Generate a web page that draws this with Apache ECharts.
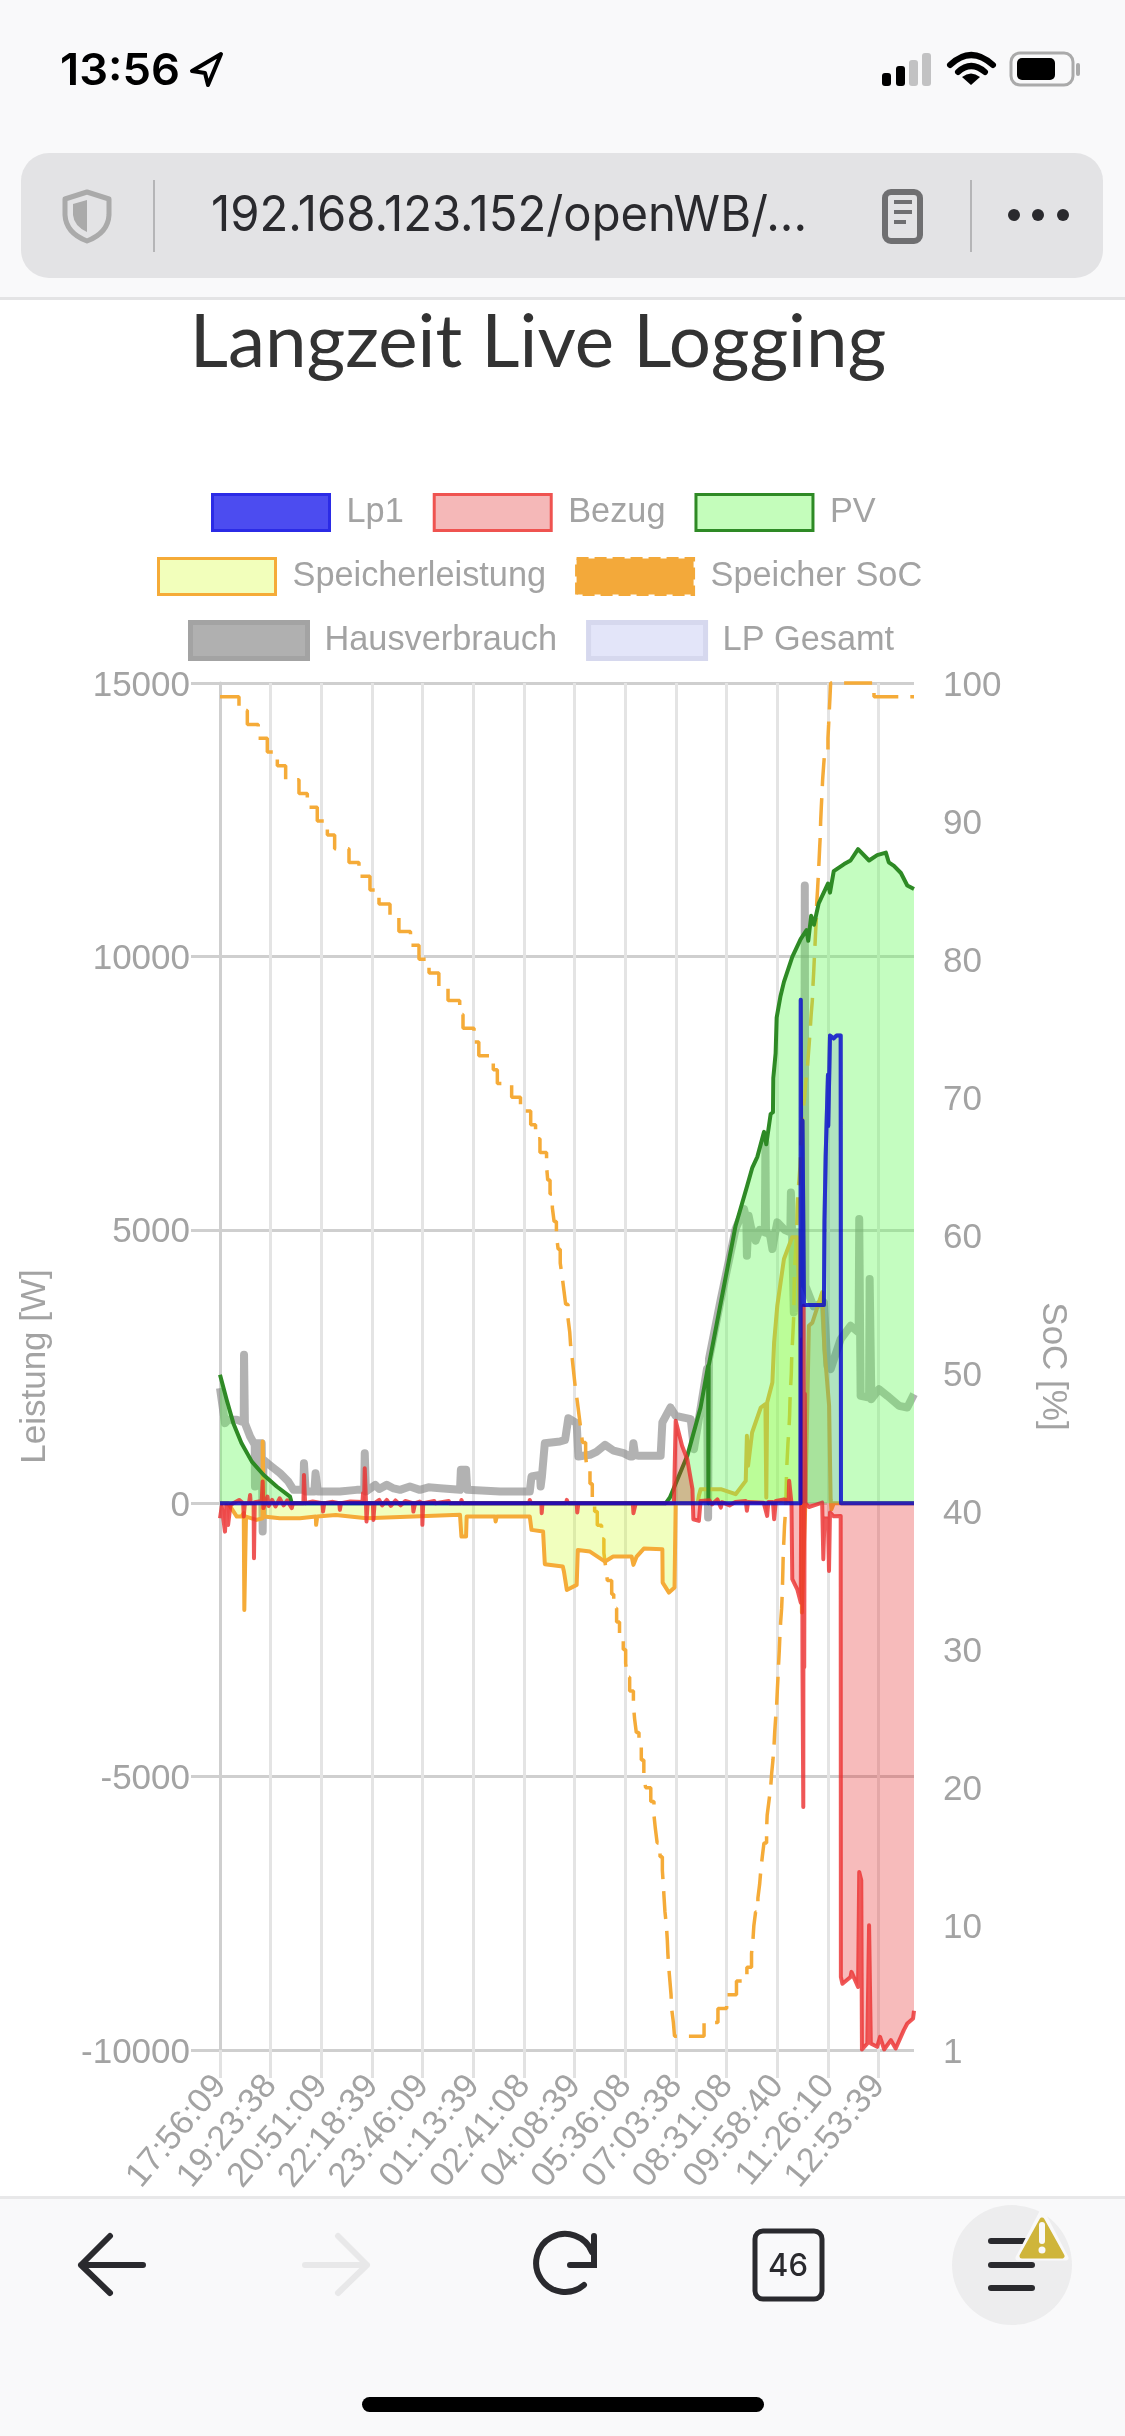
<!DOCTYPE html>
<html>
<head>
<meta charset="utf-8">
<title>Langzeit Live Logging</title>
<script src="https://cdn.jsdelivr.net/npm/echarts@6/dist/echarts.min.js"></script>
<style>
  html, body { margin: 0; padding: 0; background: #fff; }
  #chart { position: absolute; left: 0; top: 0; width: 1125px; height: 2436px; }
  #chrome { position: absolute; left: 0; top: 0; pointer-events: none; }
</style>
</head>
<body>
<div id="chart"></div>
<svg id="chrome" width="1125" height="2436" xmlns="http://www.w3.org/2000/svg">
  <!-- status bar and address bar -->
  <rect x="0" y="0" width="1125" height="297" fill="#f9f9fa"/>
  <rect x="0" y="297" width="1125" height="3" fill="#e4e4e5"/>
  <text x="60" y="85" font-family="Inter" font-weight="600" font-size="44" fill="#000" textLength="120" lengthAdjust="spacingAndGlyphs">13:56</text>
  <path d="M221 54 L192 71 L205 73 L208 85 Z" fill="none" stroke="#000" stroke-width="4" stroke-linejoin="round"/>
  <rect x="882" y="73" width="9" height="13" rx="3" fill="#000"/>
  <rect x="896" y="66" width="9" height="20" rx="3" fill="#000"/>
  <rect x="909" y="60" width="9" height="26" rx="3" fill="#c2c2c3"/>
  <rect x="922" y="53" width="9" height="33" rx="3" fill="#c2c2c3"/>
  <path d="M950 65 Q971 45 993 65" fill="none" stroke="#000" stroke-width="6" stroke-linecap="round"/>
  <path d="M958 72 Q971 60 985 72" fill="none" stroke="#000" stroke-width="6" stroke-linecap="round"/>
  <path d="M971 85 L962 77 Q971 70 980 77 Z" fill="#000"/>
  <rect x="1011" y="53" width="62" height="32" rx="9" fill="none" stroke="#aaa" stroke-width="3"/>
  <rect x="1017" y="58" width="38" height="22" rx="5" fill="#000"/>
  <rect x="1076" y="63" width="4" height="13" rx="2" fill="#aaa"/>

  <rect x="21" y="153" width="1082" height="125" rx="28" fill="#e3e3e5"/>
  <path d="M87 192 L65 199 L65 215 Q66 233 87 241 Q108 233 109 215 L109 199 Z" fill="none" stroke="#aaa" stroke-width="5" stroke-linejoin="round"/>
  <path d="M87 200 L73 204 L73 215 Q74 226 87 232 Z" fill="#aaa"/>
  <rect x="153" y="180" width="2" height="72" fill="#b5b5b7"/>
  <text x="211" y="231" font-family="Inter" font-size="49" fill="#2a2a2e" textLength="596" lengthAdjust="spacingAndGlyphs">192.168.123.152/openWB/...</text>
  <rect x="885" y="192" width="35" height="49" rx="6" fill="none" stroke="#6f6f71" stroke-width="6"/>
  <path d="M894 202 H912 M894 212 H912 M894 222 H906" stroke="#6f6f71" stroke-width="4"/>
  <rect x="970" y="180" width="2" height="72" fill="#b5b5b7"/>
  <circle cx="1014" cy="215" r="6" fill="#2a2a2e"/>
  <circle cx="1038" cy="215" r="6" fill="#2a2a2e"/>
  <circle cx="1063" cy="215" r="6" fill="#2a2a2e"/>

  <!-- bottom toolbar -->
  <rect x="0" y="2199" width="1125" height="237" fill="#f9f9fa"/>
  <rect x="0" y="2196" width="1125" height="3" fill="#e8e8e9"/>
  <path d="M110 2236 L81 2265 L110 2293 M81 2265 H143" fill="none" stroke="#2a2a2e" stroke-width="6" stroke-linecap="round" stroke-linejoin="round"/>
  <path d="M338 2236 L367 2265 L338 2293 M305 2265 H367" fill="none" stroke="#e8e8e9" stroke-width="6" stroke-linecap="round" stroke-linejoin="round"/>
  <path d="M592 2252 A29 29 0 1 0 584 2285" fill="none" stroke="#2a2a2e" stroke-width="6" stroke-linecap="round"/>
  <path d="M594 2236 V2265 H570" fill="none" stroke="#2a2a2e" stroke-width="6" stroke-linecap="round"/>
  <rect x="755" y="2231" width="67" height="68" rx="8" fill="none" stroke="#2a2a2e" stroke-width="5"/>
  <text x="788" y="2276" text-anchor="middle" font-family="Inter" font-weight="500" font-size="31" fill="#2a2a2e">46</text>
  <circle cx="1012" cy="2265" r="60" fill="#ededee"/>
  <path d="M991 2241 H1032 M991 2265 H1032 M991 2288 H1032" stroke="#2a2a2e" stroke-width="6" stroke-linecap="round"/>
  <path d="M1042 2212 L1066 2258 H1018 Z" fill="#cfb53b" stroke="#f9f9fa" stroke-width="5" stroke-linejoin="round"/>
  <path d="M1042 2220 L1062 2256 H1022 Z" fill="#cfb53b" stroke="#cfb53b" stroke-width="5" stroke-linejoin="round"/>
  <path d="M1042 2225 V2241" stroke="#f9f9fa" stroke-width="6" stroke-linecap="round"/>
  <circle cx="1042" cy="2250" r="3.5" fill="#f9f9fa"/>
  <rect x="362" y="2397" width="402" height="15" rx="7.5" fill="#000"/>
</svg>
<script>
// x values are minutes after the first log entry (17:56:09), y values are watts / percent
var tickStep = 87.5
var tickLabels = ['17:56:09', '19:23:38', '20:51:09', '22:18:39', '23:46:09', '01:13:39', '02:41:08',
  '04:08:39', '05:36:08', '07:03:38', '08:31:08', '09:58:40', '11:26:10', '12:53:39']
var lastMinute = 1198.6
var socTicks = [1, 10, 20, 30, 40, 50, 60, 70, 80, 90, 100]

var lp1Data = [[0, 0], [1002.5, 0], [1003, 9207], [1004, 5200], [1006, 7000], [1008.6, 3623], [1043, 3623], [1044, 5172],
  [1046, 6334], [1050, 7836], [1050.5, 6900], [1053.5, 8554], [1060, 8500], [1065, 8554], [1072, 8554], [1072.5, 0],
  [lastMinute, 0]]

var bezugData = [[0, -275], [3, -60], [6, -60], [8.6, -520], [11, -40], [14, -400], [18, -40], [23, 0], [33, 60], [40, 0],
  [41, -244], [43, 0], [50, 0], [52, 150], [53, 0], [58, 0], [58.7, -1006], [60, 20], [72, 40], [73.7, 396], [75, -90],
  [82, 120], [84, -50], [90, 60], [96, -60], [103, 90], [110, -40], [116, 50], [124, -90], [126, 0], [144, 0], [145, 518],
  [147, 0], [160, 30], [177, 0], [178, -152], [180, 0], [195, 25], [206, 0], [207, -122], [209, 0], [225, 30], [246, 20],
  [247, 183], [249, 120], [250, 640], [252, 60], [253, -335], [255, 0], [264, 0], [265, -305], [267, 0], [275, 60], [280, -40],
  [288, 60], [295, -50], [303, 50], [312, -40], [320, 40], [333, 0], [334, -152], [337, 0], [345, 30], [349, 0], [349.5, -396],
  [351, 0], [370, 40], [372, 0], [395, 40], [397, 0], [416, 0], [417, 60], [419, 0], [534, 0], [535, 60], [537, 0], [555, 0],
  [555.6, -183], [557, 0], [598, 0], [599, 61], [601, 0], [616, 0], [617, -170], [619, 0], [713, 0], [714, -183], [716, -170],
  [718, 0], [784, 0], [787, 1507], [798, 1050], [807, 805], [816, 256], [817.5, -293], [827, -323], [830, 40], [845, 55],
  [850, -20], [859, 70], [865, -80], [867, 20], [880, -40], [890, 20], [908, 40], [910, -140], [912, 20], [939, 10], [945, -232],
  [947, 20], [955, 20], [957, -293], [960, 40], [974, 70], [982, 50], [983, 409], [987, 0], [988.4, -1390], [997, -1574],
  [1003, -1818], [1005, 3000], [1006, -3000], [1007.4, -5554], [1008, 3611], [1009, -3000], [1010, 2000], [1011, 0], [1017, -70],
  [1040, 10], [1042, -1025], [1044, -280], [1050, -280], [1051.8, -1238], [1053.5, -170], [1060, -240], [1072, -232],
  [1072.3, -8664], [1075, -8790], [1089, -8664], [1090.6, -8571], [1102, -8846], [1104, -6743], [1107.5, -6896], [1108.7, -9990],
  [1118, -9881], [1121, -7717], [1124, -9881], [1135, -9942], [1140, -9759], [1147, -9990], [1158.7, -9820], [1167, -9973],
  [1181, -9637], [1187, -9515], [1197, -9424], [1198.6, -9283]]

var pvData = [[0, 2350], [11.5, 1890], [23, 1464], [37, 1100], [55, 760], [75, 520], [98, 305], [121, 120], [124, 0],
  [770, 0], [777, 104], [807, 866], [830, 1750], [843, 2513], [843.5, 0], [844, 2513], [865, 3672], [890.5, 5075],
  [910.7, 5812], [919.4, 6138], [928, 6334], [939.6, 6791], [943.5, 6563], [951, 7118], [955, 7150], [955.6, 7771],
  [959.6, 8228], [961.4, 8881], [968, 9273], [974, 9534], [988.4, 9991], [1002.8, 10317], [1013, 10480],
  [1016, 10285], [1021, 10742], [1025.8, 10579], [1034, 10970], [1050, 11330], [1053.5, 11166], [1060, 11558],
  [1078, 11689], [1089, 11754], [1102, 11963], [1121, 11754], [1135, 11852], [1150, 11898], [1155, 11721],
  [1164, 11656], [1176, 11525], [1187, 11297], [1198.6, 11232]]

var speicherData = [[0, 0], [14, 0], [29, -244], [37, -244], [41, -180], [42, -1952], [44.9, -244], [63, -305],
  [73.5, -275], [73.7, 1128], [76, -244], [103, -275], [138, -275], [165.5, -244], [166, -396], [168, -244], [200, -215],
  [253, -275], [334, -244], [414.5, -213], [417, -610], [425, -610], [426, -244], [475, -244], [476, -335], [478, -244],
  [535, -244], [538, -488], [558, -518], [561, -1116], [592, -1159], [594, -1250], [599, -1586], [616, -1494],
  [618, -854], [639, -885], [665, -1067], [679, -976], [711, -976], [714, -1128], [719.6, -976], [732, -830],
  [764, -842], [764.5, -1452], [775.4, -1635], [785, -1543], [787, 0], [825, 0], [827, 134], [830, 256], [865, 256],
  [890.5, 165], [908, 409], [910, 1232], [912, 683], [919, 1293], [934, 1750], [942, 1812], [943.5, 104], [945, 1842],
  [954, 2208], [957, 2940], [962.5, 3611], [974, 4465], [988, 4862], [997, 4862], [1003, 3000], [1005, -2000],
  [1007, -1200], [1011, 0], [1017, 3245], [1023, 3300], [1040, 3855], [1044, 2818], [1052, 1781], [1054.6, 73],
  [1056, -110], [1060, 0], [lastMinute, 0]]

var socData = [[0, 99], [32.8, 98], [47.2, 97], [66, 96], [81.7, 95], [99, 94], [113.4, 93], [136.4, 92], [150.8, 91],
  [168, 90], [185.4, 89], [198, 88], [222.8, 87], [240, 86], [259, 85], [274.6, 84], [293.6, 83], [309, 82], [329, 81],
  [343.7, 80], [361, 79], [378, 78], [393.8, 77], [414, 76], [419.7, 75], [438.7, 74], [447, 73], [472, 72], [479, 71],
  [503.7, 70], [519, 69], [536.6, 68], [545, 67], [552.6, 66], [564, 65], [566, 64], [570, 63], [574, 62], [577, 61],
  [581, 60], [584, 59], [587.6, 58], [591, 57], [594, 56], [597, 55], [601, 54], [604, 53], [605.6, 52], [608.5, 51],
  [611, 50], [613.6, 49], [617, 48], [620, 47], [623, 46], [626, 45], [631.5, 44], [634, 43], [639, 42], [643, 41],
  [647, 40], [651.6, 39], [659, 38], [663, 37], [666, 36], [669, 35], [676.5, 34], [680, 33], [685, 32], [690, 31],
  [696.5, 30], [700.6, 29], [703.5, 28], [707.5, 27], [714, 26], [716, 25], [719, 24], [723.6, 23], [727.6, 22],
  [732, 21], [735, 20], [744, 19], [749.5, 18], [752, 17], [755, 16], [760, 15], [764, 14], [765.6, 13], [767, 12],
  [768.5, 11], [771, 10], [772.5, 9], [773.5, 8], [775, 7], [777, 6], [779, 5], [780, 4], [783, 3], [785, 2], [836, 3],
  [860, 4], [875, 5], [892, 6], [910, 7], [918, 8], [920.5, 9], [922, 10], [925, 11], [929, 12], [932, 13], [934, 14],
  [936.6, 15], [939.5, 16], [944, 17], [945, 18], [948, 19], [951, 20], [952.7, 21], [955, 22], [956.8, 23], [958, 24],
  [959.6, 25], [961.4, 26], [962.5, 27], [963.7, 28], [964.8, 29], [966, 30], [967, 31], [968.3, 32], [970, 33],
  [971, 34], [971.7, 35], [972.3, 36], [972.8, 37], [974, 38], [975, 39], [976.7, 40], [977.5, 41], [978, 42],
  [978.6, 43], [979.8, 44], [981, 45], [982.7, 46], [983.8, 47], [984.4, 48], [985.5, 49], [986.7, 50], [987.3, 51],
  [988.4, 52], [989.6, 53], [990.7, 54], [991.3, 55], [991.6, 56], [992, 57], [993, 58], [994.2, 59], [995.3, 60],
  [996.5, 61], [997, 62], [998, 63], [1000, 64], [1001.7, 65], [1002.8, 66], [1004, 67], [1005, 68], [1006.8, 69],
  [1009.7, 70], [1011.4, 71], [1014.3, 72], [1016, 73], [1017.8, 74], [1019.5, 75], [1021, 76], [1023, 77], [1024, 78],
  [1025.3, 79], [1026.4, 80], [1027.6, 81], [1028.7, 82], [1030, 83], [1030.5, 84], [1032, 85], [1033.3, 86],
  [1034.5, 87], [1035.6, 88], [1036.8, 89], [1037.4, 90], [1038.5, 91], [1039.7, 92], [1040.8, 93], [1042.5, 94],
  [1044.3, 95], [1050, 96], [1051.2, 97], [1052.3, 98], [1053.5, 99], [1054.6, 100], [1129.5, 99], [lastMinute, 99]]

var hausData = [[0, 2105], [3, 2070], [8.6, 1464], [14, 1525], [29, 1525], [37, 1495], [41, 1480], [41.5, 2715], [43, 1464], [52, 1220],
  [60, 1067], [60.4, 305], [63, 1098], [72, 1098], [73.7, -518], [75, 793], [89, 671], [103.6, 549], [118, 396],
  [127, 244], [144, 244], [145, 732], [147, 732], [148, 214], [163, 214], [165, 549], [168, 549], [169, 214], [207, 214], [236, 244],
  [249, 244], [250, 915], [252, 214], [268, 335], [275, 260], [288, 335], [300, 270], [311, 244], [328, 305], [345, 244], [360, 290],
  [380, 275], [414.5, 244], [416, 610], [425, 610], [427, 244], [483.6, 214], [535, 214], [538, 488], [552.7, 518],
  [553.8, 305], [556, 488], [561, 1098], [587, 1128], [596, 1159], [601.6, 1555], [616, 1464], [619, 854], [639, 885],
  [650, 940], [665, 1067], [680, 960], [697, 915], [708, 854], [712, 854], [714, 1098], [717, 880], [723.6, 866], [761, 866],
  [764, 1476], [778, 1750], [787, 1598], [813, 1537], [818.6, 988], [841, 2452], [843, -262], [844.5, 2635], [865, 3733],
  [890.5, 5014], [905, 5380], [909, 5200], [910, 4526], [913, 5258], [917, 5050], [925, 4800], [932, 5000], [941, 4953], [942, 6595], [943, 4953],
  [950, 4900], [954, 4648], [958, 4900], [962.5, 5136], [975, 5000], [985, 4953], [986, 5681], [988, 4953], [991, 3489], [993, 3489],
  [997, 4953], [1009, 4000], [1010, 11297], [1011, 3977], [1025, 3600], [1043, 3672], [1049, 2513], [1054.6, 2452], [1072, 3001],
  [1089, 3245], [1103, 3123], [1104, 5197], [1106.4, 1964], [1121, 1934], [1122, 4099], [1125, 1903], [1138, 2086],
  [1152.5, 1964], [1172.7, 1781], [1187, 1751], [1198.6, 1995]]

var lpGesamtData = lp1Data

var grey = '#a3a3a3'
var gridLine = { color: '#cfcfcf', width: 3 }
var fontName = '"Liberation Sans", Arial, sans-serif'

function lineSeries(name, data, color, width, fill, z, extra) {
  var s = {
    name: name,
    type: 'line',
    data: data,
    z: z,
    showSymbol: false,
    silent: true,
    lineStyle: { color: color, width: width, join: 'round' },
    itemStyle: { color: color }
  }
  if (fill) s.areaStyle = { color: fill, origin: 0, opacity: 1 }
  for (var k in extra) s[k] = extra[k]
  return s
}

function legendRow(top, left, items) {
  return {
    top: top, left: left, orient: 'horizontal', itemWidth: 117, itemHeight: 36, itemGap: 29,
    selectedMode: false,
    textStyle: { color: grey, fontSize: 34.3, fontFamily: fontName, padding: [0, 0, 0, 12] },
    data: items.map(function (it) {
      return {
        name: it[0], icon: 'rect',
        itemStyle: { color: it[1], borderColor: it[2], borderWidth: it[3], borderType: it[4] || 'solid', opacity: 1 }
      }
    })
  }
}

// y tick labels sit a little below their grid line
var tickRich = { v: { color: grey, fontSize: 35, fontFamily: fontName, padding: [6, 0, 0, 0] } }
function tickLabel(v) { return '{v|' + v + '}' }

var chart = echarts.init(document.getElementById('chart'), null, { renderer: 'canvas' })

var option = {
  animation: false,
  backgroundColor: '#fff',
  title: {
    text: 'Langzeit Live Logging',
    left: 533, top: 300, textAlign: 'center',
    textStyle: { color: '#333', fontSize: 74.5, fontWeight: 'normal', fontFamily: 'Lato' }
  },
  legend: [
    legendRow(488, 206, [['Lp1', '#4c4cf0', '#2b2be6', 3], ['Bezug', '#f5b8b8', '#ef5350', 3], ['PV', '#c4fdbb', '#2e8a25', 3]]),
    legendRow(552, 152, [['Speicherleistung', '#f2ffbb', '#f5ab38', 3], ['Speicher SoC', '#f3a93a', '#f3a93a', 3, 'dashed']]),
    legendRow(615, 183, [['Hausverbrauch', '#b0b0b0', '#a3a3a3', 5], ['LP Gesamt', '#e3e5f9', '#d6d8ee', 5]])
  ],
  grid: { left: 220, right: 211, top: 683, bottom: 386, containLabel: false, outerBoundsMode: 'none' },
  xAxis: {
    type: 'value', min: 0, max: lastMinute,
    axisLine: { show: false, onZero: false },
    axisTick: {
      show: true, length: 28, lineStyle: { color: '#e2e2e2', width: 3 },
      customValues: tickLabels.map(function (l, i) { return i * tickStep })
    },
    splitLine: { show: true, lineStyle: { color: '#e4e4e4', width: 3 } },
    axisLabel: {
      rotate: 50, margin: 30, color: grey, fontSize: 34.5, fontFamily: fontName,
      customValues: tickLabels.map(function (l, i) { return i * tickStep }),
      formatter: function (v) { return tickLabels[Math.round(v / tickStep)] }
    }
  },
  yAxis: [{
    type: 'value', min: -10000, max: 15000, interval: 5000, position: 'left',
    name: 'Leistung [W]', nameLocation: 'middle', nameGap: 167,
    nameTextStyle: { color: grey, fontSize: 35, fontFamily: fontName },
    axisLine: { show: true, lineStyle: gridLine },
    axisTick: { show: true, length: 29, lineStyle: gridLine },
    splitLine: { show: true, lineStyle: gridLine },
    axisLabel: { margin: 30, formatter: tickLabel, rich: tickRich }
  }, {
    type: 'value', min: 1, max: 100, position: 'right',
    name: 'SoC [%]', nameLocation: 'middle', nameGap: 121, nameRotate: -90,
    nameTextStyle: { color: grey, fontSize: 35, fontFamily: fontName },
    axisLine: { show: false },
    axisTick: { show: false, customValues: socTicks },
    splitLine: { show: false },
    axisLabel: { margin: 29, customValues: socTicks, formatter: tickLabel, rich: tickRich }
  }],
  series: [
    lineSeries('Lp1', lp1Data, 'rgba(0,0,255,0.55)', 4, null, 10),
    lineSeries('Bezug', bezugData, 'rgba(235,45,45,0.8)', 4, 'rgba(230,30,30,0.3)', 8),
    lineSeries('PV', pvData, '#2e8a25', 4, 'rgba(100,250,90,0.38)', 7),
    lineSeries('Speicherleistung', speicherData, '#f5ab38', 4, 'rgba(205,255,20,0.28)', 6),
    lineSeries('Speicher SoC', socData, '#f5ab38', 3.5, null, 5, {
      yAxisIndex: 1, step: 'end', clip: false,
      lineStyle: { color: '#f5ab38', width: 3.5, type: [28, 12] }
    }),
    lineSeries('Hausverbrauch', hausData, 'rgba(130,130,130,0.62)', 8, null, 4),
    lineSeries('LP Gesamt', lpGesamtData, 'rgba(0,0,100,0.55)', 4, 'rgba(0,0,200,0.1)', 9)
  ]
}
chart.setOption(option)
</script>
</body>
</html>
